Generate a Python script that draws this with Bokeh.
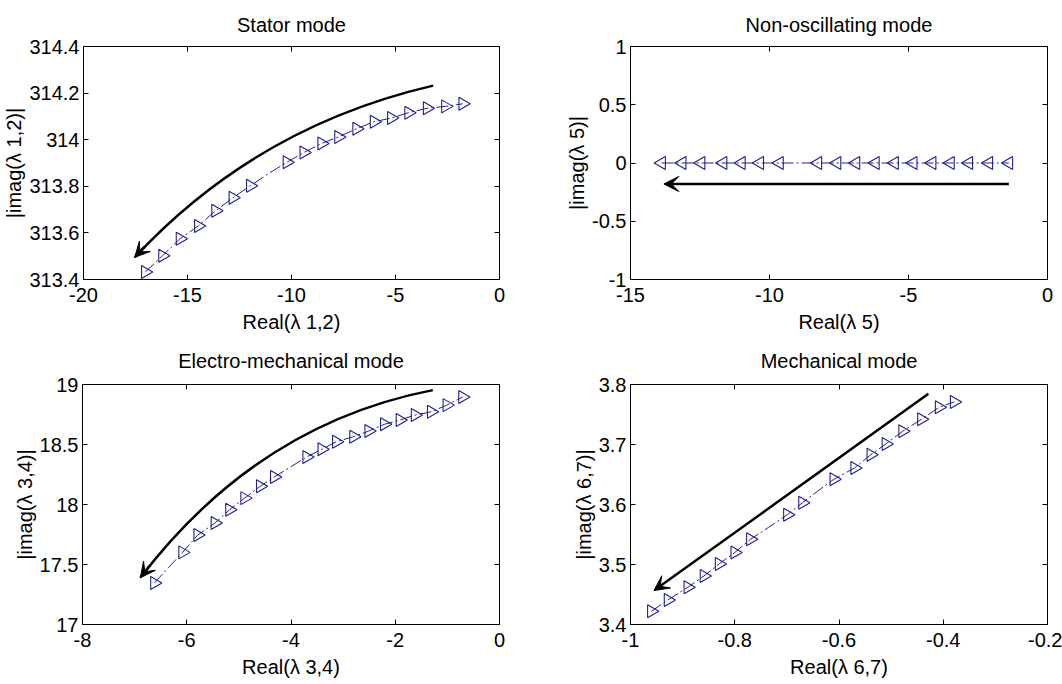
import math
from bokeh.plotting import figure
from bokeh.layouts import column, row
from bokeh.models import (LinearAxis, FixedTicker, CustomJSTickFormatter, Arrow,
                          VeeHead, Range1d)
from bokeh.embed import file_html
from bokeh.resources import INLINE

# ---------------- data ----------------
# Stator mode (lambda 1,2)
stator_re = [-17.03, -16.20, -15.36, -14.48, -13.65, -12.82, -11.98, -11.10, -10.22, -9.41,
             -8.55, -7.74, -6.87, -6.03, -5.20, -4.37, -3.48, -2.60, -1.77]
stator_im = [313.432, 313.502, 313.575, 313.630, 313.695, 313.751, 313.802, 313.855, 313.903,
             313.945, 313.984, 314.012, 314.047, 314.077, 314.093, 314.116, 314.135, 314.143,
             314.154]
stator_hidden = [7]

# Non-oscillating mode (lambda 5)
nonosc_re = [-13.88, -13.14, -12.46, -11.67, -11.01, -10.35, -9.64, -8.94, -8.26, -7.57,
             -6.89, -6.19, -5.50, -4.83, -4.15, -3.49, -2.83, -2.11, -1.39]
nonosc_im = [0.0] * 19
nonosc_hidden = [7]

# Electro-mechanical mode (lambda 3,4)
electro_re = [-6.62, -6.35, -6.08, -5.79, -5.46, -5.18, -4.89, -4.59, -4.32, -4.02, -3.70,
              -3.41, -3.13, -2.80, -2.51, -2.21, -1.91, -1.62, -1.31, -1.01, -0.71]
electro_im = [17.346, 17.475, 17.601, 17.745, 17.845, 17.956, 18.053, 18.152, 18.230, 18.310,
              18.396, 18.460, 18.523, 18.565, 18.612, 18.668, 18.704, 18.745, 18.773, 18.828,
              18.895]
electro_hidden = [1, 9]

# Mechanical mode (lambda 6,7)
mech_re = [-0.960, -0.928, -0.890, -0.859, -0.830, -0.800, -0.770, -0.735, -0.699, -0.670,
           -0.640, -0.610, -0.570, -0.539, -0.510, -0.478, -0.442, -0.408, -0.379]
mech_im = [3.422, 3.441, 3.462, 3.481, 3.501, 3.520, 3.542, 3.562, 3.583, 3.603, 3.623,
           3.642, 3.661, 3.683, 3.701, 3.722, 3.742, 3.762, 3.771]
mech_hidden = [7, 10]

# direction arrows: (start, control, end) — control None for straight
stator_arrow = [(-3.19, 314.232), (-11.72, 314.055), (-17.54, 313.495)]
nonosc_arrow = [(-1.39, -0.18), None, (-13.80, -0.18)]
electro_arrow = [(-1.28, 18.953), (-4.64, 18.669), (-6.89, 17.39)]
mech_arrow = [(-0.4285, 3.7845), None, (-0.955, 3.4565)]

# ticks
stator_xticks = [-20, -15, -10, -5, 0]
stator_yticks = [313.4, 313.6, 313.8, 314.0, 314.2, 314.4]
nonosc_xticks = [-15, -10, -5, 0]
nonosc_yticks = [-1, -0.5, 0, 0.5, 1]
electro_xticks = [-8, -6, -4, -2, 0]
electro_yticks = [17, 17.5, 18, 18.5, 19]
mech_xticks = [-1, -0.8, -0.6, -0.4, -0.2]
mech_yticks = [3.4, 3.5, 3.6, 3.7, 3.8]

FONT = "Liberation Sans"
FS = "20px"
BLUE = "#20208a"


def style_axis(ax, ticks, labels=True, standoff=6):
    ax.ticker = FixedTicker(ticks=ticks)
    ax.formatter = CustomJSTickFormatter(code="return String(Number(tick.toFixed(6)));")
    ax.axis_line_color = "black"
    ax.axis_line_width = 1
    ax.major_tick_line_color = "black"
    ax.major_tick_in = 5
    ax.major_tick_out = 0
    ax.minor_tick_line_color = None
    ax.major_label_text_font = FONT
    if labels:
        ax.major_label_text_color = "black"
        ax.major_label_text_font_size = FS
        ax.major_label_standoff = standoff
    else:
        ax.major_label_text_color = None
        ax.major_label_text_font_size = "1px"
        ax.major_label_standoff = 0
    ax.axis_label_text_font = FONT
    ax.axis_label_text_font_size = FS
    ax.axis_label_text_font_style = "normal"
    ax.axis_label_text_color = "black"


def make(title, xr, yr, xt, yt, xlabel, ylabel, re, im, hidden, arrow, angle,
         w, h, bl, br, bt, bb, tstand):
    p = figure(width=w, height=h, x_range=Range1d(*xr), y_range=Range1d(*yr),
               output_backend="svg", toolbar_location=None,
               min_border_left=bl, min_border_right=br, min_border_top=bt,
               min_border_bottom=bb)
    p.title.text = title
    p.title.align = "center"
    p.title.text_font = FONT
    p.title.text_font_size = FS
    p.title.text_font_style = "normal"
    p.title.text_color = "black"
    p.title.standoff = tstand
    p.grid.visible = False
    p.outline_line_color = "black"
    p.background_fill_color = "white"
    p.border_fill_color = "white"

    style_axis(p.xaxis[0], xt, standoff=8)
    style_axis(p.yaxis[0], yt, standoff=4)
    p.xaxis[0].axis_label = xlabel
    p.yaxis[0].axis_label = ylabel
    p.xaxis[0].axis_label_standoff = 6
    p.yaxis[0].axis_label_standoff = 1

    top = LinearAxis()
    style_axis(top, xt, labels=False)
    p.add_layout(top, "above")
    right = LinearAxis()
    style_axis(right, yt, labels=False)
    p.add_layout(right, "right")

    # trajectory line
    p.line(re, im, line_color=BLUE, line_width=1, line_dash="12 3 2 3")
    mx = [v for i, v in enumerate(re) if i not in hidden]
    my = [v for i, v in enumerate(im) if i not in hidden]
    p.scatter(mx, my, marker="triangle", size=13, angle=angle, fill_color=None,
              line_color=BLUE, line_width=1.1)

    # direction arrow
    (sx, sy), ctrl, (ex, ey) = arrow
    head = VeeHead(size=15, fill_color="black", line_color="black", line_width=1)
    if ctrl is None:
        p.add_layout(Arrow(x_start=sx, y_start=sy, x_end=ex, y_end=ey,
                           line_color="black", line_width=2.5, end=head))
    else:
        cx, cy = ctrl
        p.quadratic(x0=[sx], y0=[sy], x1=[ex], y1=[ey], cx=[cx], cy=[cy],
                    line_color="black", line_width=2.5)
        hx = ex + 0.08 * (cx - ex)
        hy = ey + 0.08 * (cy - ey)
        p.add_layout(Arrow(x_start=hx, y_start=hy, x_end=ex, y_end=ey,
                           line_color="black", line_width=2.5, end=head))
    return p


H1, H2 = 335, 349
W = 531
p1 = make("Stator mode", (-20, 0), (313.4, 314.4), stator_xticks, stator_yticks,
          "Real(λ 1,2)", "|imag(λ 1,2)|", stator_re, stator_im, stator_hidden,
          stator_arrow, -math.pi / 2, W, H1, 82, 32, 44, H1 - 44 - 239, 22)
p2 = make("Non-oscillating mode", (-15, 0), (-1, 1), nonosc_xticks, nonosc_yticks,
          "Real(λ 5)", "|imag(λ 5)|", nonosc_re, nonosc_im, nonosc_hidden,
          nonosc_arrow, math.pi / 2, W, H1, 99, 15, 44, H1 - 44 - 239, 22)
p3 = make("Electro-mechanical mode", (-8, 0), (17, 19), electro_xticks, electro_yticks,
          "Real(λ 3,4)", "|imag(λ 3,4)|", electro_re, electro_im, electro_hidden,
          electro_arrow, -math.pi / 2, W, H2, 82, 32, 48, H2 - 48 - 241, 25)
p4 = make("Mechanical mode", (-1, -0.2), (3.4, 3.8), mech_xticks, mech_yticks,
          "Real(λ 6,7)", "|imag(λ 6,7)|", mech_re, mech_im, mech_hidden,
          mech_arrow, -math.pi / 2, W, H2, 99, 15, 48, H2 - 48 - 241, 25)

layout = column(row(p1, p2), row(p3, p4))
open("out.html", "w").write(file_html(layout, INLINE))
